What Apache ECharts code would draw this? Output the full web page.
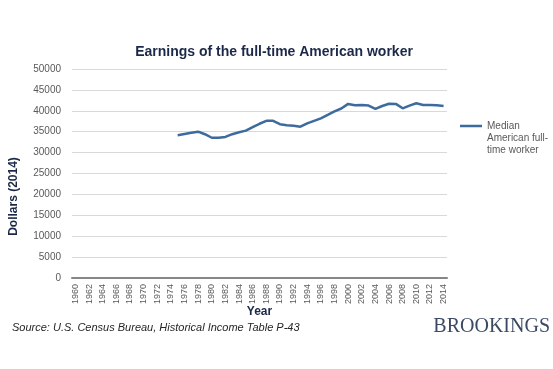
<!DOCTYPE html>
<html>
<head>
<meta charset="utf-8">
<script src="https://cdn.jsdelivr.net/npm/echarts@6/dist/echarts.min.js"></script>
<style>
html,body{margin:0;padding:0;background:#fff;}
#chart{width:553px;height:369px;}
</style>
</head>
<body>
<div id="chart"></div>
<script>
const years = [];
for (let y = 1960; y <= 2014; y++) years.push(String(y));

const seriesName = 'Median American full-time worker';
// Values 1960-1974 are not available (null); 1975-2014
const earnings = [
  null, null, null, null, null, null, null, null, null, null,
  null, null, null, null, null,
  34150, 34450, 34750, 35000, 34400, 33550, 33550, 33750, 34400, 34850,
  35250, 36100, 36900, 37600, 37600, 36800, 36550, 36400, 36200, 37000,
  37600, 38200, 39000, 39850, 40550, 41650, 41350, 41400, 41250, 40450,
  41150, 41700, 41650, 40600, 41250, 41800, 41400, 41400, 41350, 41150
];

const yTicks = { min: 0, max: 50000, interval: 5000 };

const chart = echarts.init(document.getElementById('chart'), null, { renderer: 'canvas' });
chart.setOption({
  backgroundColor: '#ffffff',
  animation: false,
  title: {
    text: 'Earnings of the full-time American worker',
    left: 269,
    textAlign: 'center',
    top: 40,
    textStyle: { fontFamily: 'Liberation Sans', fontWeight: 'bold', fontSize: 14, color: '#1b2949' }
  },
  legend: {
    data: [seriesName],
    left: 460,
    top: 96,
    padding: 0,
    icon: 'rect',
    itemWidth: 22,
    itemHeight: 2.5,
    formatter: function () { return '\n\nMedian\nAmerican full-\ntime worker'; },
    textStyle: { fontFamily: 'Liberation Sans', fontSize: 10, color: '#595959', lineHeight: 12 }
  },
  grid: { left: 65, right: 106, top: 69, bottom: 91, containLabel: false },
  xAxis: {
    type: 'category',
    data: years,
    boundaryGap: true,
    name: 'Year',
    nameLocation: 'middle',
    nameGap: 28,
    nameMoveOverlap: false,
    nameTextStyle: { fontFamily: 'Liberation Sans', fontWeight: 'bold', fontSize: 12, color: '#1b2949' },
    axisLine: { show: true, lineStyle: { color: '#868686', width: 2 } },
    axisTick: { show: false },
    axisLabel: { interval: 1, rotate: 90, fontFamily: 'Liberation Sans', fontSize: 9, color: '#595959', margin: 6 },
    splitLine: { show: false }
  },
  yAxis: {
    type: 'value',
    min: yTicks.min,
    max: yTicks.max,
    interval: yTicks.interval,
    name: 'Dollars (2014)',
    nameLocation: 'middle',
    nameRotate: 90,
    nameGap: 52,
    nameMoveOverlap: false,
    nameTextStyle: { fontFamily: 'Liberation Sans', fontWeight: 'bold', fontSize: 12, color: '#1b2949', padding: [0, 46, 0, 0] },
    axisLine: { show: false },
    axisTick: { show: false },
    axisLabel: { fontFamily: 'Liberation Sans', fontSize: 10, color: '#595959', margin: 11, formatter: function (v) { return String(v); } },
    splitLine: { show: true, lineStyle: { color: '#d9d9d9', width: 1 } }
  },
  series: [{
    name: seriesName,
    type: 'line',
    data: earnings,
    symbol: 'none',
    showSymbol: false,
    connectNulls: false,
    lineStyle: { color: '#3d6b9e', width: 2.5 },
    itemStyle: { color: '#3d6b9e' }
  }],
  graphic: [
    {
      type: 'text',
      left: 12,
      top: 322,
      style: { text: 'Source: U.S. Census Bureau, Historical Income Table P-43', fontFamily: 'Liberation Sans', fontStyle: 'italic', fontSize: 11, fill: '#262626' }
    },
    {
      type: 'text',
      right: 3,
      top: 317,
      style: { text: 'BROOKINGS', fontFamily: 'Liberation Serif', fontSize: 20, fill: '#3b4a64' }
    }
  ]
});
</script>
</body>
</html>
